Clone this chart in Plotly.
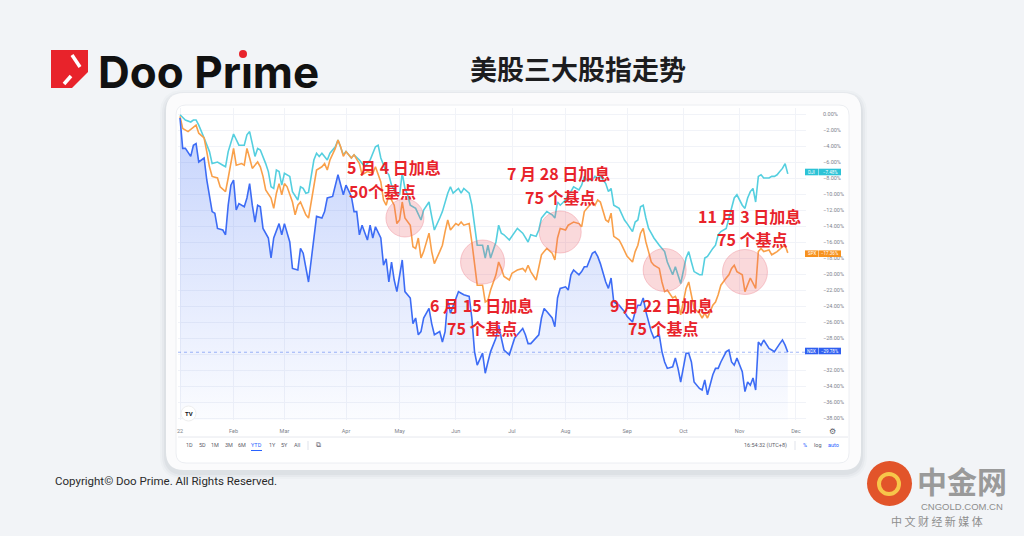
import plotly.graph_objects as go

# ---------------- data (session index 0 = 2022-01-03, values = % change YTD) ----------------
DJI_X = [0, 2, 4, 5, 6, 7, 9, 11, 12, 14, 16, 17, 18, 19, 20, 22, 24, 25, 26, 27, 28, 29, 30, 32, 33, 34, 35, 36, 37, 38, 39, 41, 42, 44, 45, 46, 47, 48, 49, 50, 51, 52, 53, 55, 56, 58, 59, 60, 61, 62, 64, 65, 67, 69, 71, 73, 74, 75, 77, 78, 79, 80, 82, 83, 84, 85, 86, 88, 89, 90, 91, 93, 94, 95, 97, 98, 100, 101, 102, 104, 105, 106, 108, 109, 110, 111, 113, 114, 115, 116, 118, 119, 120, 121, 123, 124, 125, 126, 128, 129, 130, 131, 133, 134, 135, 136, 137, 139, 140, 141, 142, 144, 145, 146, 147, 149, 150, 151, 152, 154, 155, 156, 157, 159, 160, 161, 162, 164, 165, 166, 167, 169, 170, 171, 172, 173, 174, 175, 176, 177, 179, 180, 181, 182, 184, 185, 186, 187, 189, 190, 191, 192, 194, 195, 196, 197, 199, 200, 201, 202, 204, 205, 206, 207, 208, 210, 211, 212, 213, 214, 215, 216, 217, 218, 220, 221, 222, 223, 224, 225, 226, 227]
DJI_Y = [-0.1, -0.75, -1.0, -0.75, -0.75, -1.4, -3.0, -4.7, -6.2, -6.0, -6.4, -6.6, -4.7, -3.5, -2.5, -3.9, -3.9, -2.6, -2.2, -3.7, -5.3, -4.3, -4.5, -6.2, -7.2, -9.1, -9.3, -7.0, -7.2, -8.9, -7.4, -7.8, -9.7, -10.75, -9.1, -9.3, -9.9, -9.8, -7.6, -5.75, -4.9, -5.3, -4.9, -5.75, -4.9, -4.1, -3.25, -4.1, -5.1, -4.7, -5.5, -5.1, -5.75, -6.6, -5.75, -4.1, -3.9, -5.5, -7.2, -7.6, -8.9, -9.5, -10.1, -7.4, -9.3, -10.1, -11.4, -11.8, -12.6, -13.25, -12.0, -11.0, -12.8, -14.5, -13.0, -12.2, -9.9, -9.1, -9.9, -9.3, -9.9, -9.3, -9.9, -11.4, -13.9, -16.4, -16.4, -18.0, -16.4, -18.0, -16.0, -13.9, -14.9, -15.1, -15.75, -15.3, -14.7, -14.3, -14.9, -15.5, -16.0, -15.1, -15.3, -14.5, -13.0, -12.6, -12.2, -12.6, -13.0, -11.0, -11.4, -10.75, -10.1, -9.7, -9.1, -9.5, -8.9, -7.8, -8.25, -8.25, -7.8, -8.0, -7.8, -8.7, -9.7, -9.3, -11.4, -11.8, -12.6, -13.25, -13.7, -14.7, -13.5, -13.25, -11.6, -11.4, -13.0, -14.3, -14.9, -15.5, -16.4, -16.8, -17.2, -18.5, -20.1, -19.1, -20.1, -21.2, -18.0, -17.2, -18.5, -19.7, -20.1, -20.1, -18.0, -17.8, -16.8, -16.4, -15.1, -14.7, -14.3, -13.0, -11.8, -10.5, -10.1, -11.4, -11.8, -10.5, -9.7, -9.3, -11.0, -7.8, -7.6, -8.0, -8.0, -7.8, -7.8, -7.6, -7.2, -6.8, -6.2, -7.48]

SPX_X = [0, 1, 3, 5, 6, 7, 9, 10, 11, 12, 14, 15, 17, 18, 19, 20, 21, 23, 24, 25, 26, 27, 29, 30, 31, 32, 34, 35, 36, 37, 38, 39, 40, 42, 43, 44, 45, 47, 48, 49, 50, 51, 53, 54, 55, 56, 58, 59, 60, 61, 62, 64, 65, 67, 68, 70, 72, 73, 75, 76, 77, 78, 80, 81, 82, 83, 84, 86, 87, 88, 89, 90, 91, 93, 94, 95, 97, 98, 99, 100, 101, 103, 104, 105, 106, 108, 109, 110, 111, 113, 114, 115, 116, 118, 119, 120, 121, 123, 124, 125, 126, 128, 129, 130, 131, 133, 134, 135, 136, 137, 139, 140, 141, 142, 144, 145, 146, 147, 149, 150, 151, 152, 154, 155, 156, 157, 159, 160, 161, 162, 164, 165, 166, 167, 169, 170, 171, 172, 173, 174, 175, 176, 177, 179, 180, 181, 182, 184, 185, 186, 187, 189, 190, 191, 192, 194, 195, 196, 197, 199, 200, 201, 202, 204, 205, 206, 207, 208, 210, 211, 212, 213, 215, 216, 217, 218, 220, 221, 222, 223, 225, 226, 227]
SPX_Y = [-0.3, -1.8, -2.2, -1.6, -1.4, -2.4, -3.0, -4.7, -6.6, -7.8, -8.0, -9.1, -9.7, -8.0, -6.0, -4.3, -6.4, -6.2, -6.4, -4.3, -5.5, -6.8, -6.0, -6.6, -7.8, -9.5, -10.5, -11.8, -9.9, -8.7, -10.1, -8.7, -9.1, -11.0, -12.6, -11.4, -11.0, -12.6, -13.0, -11.0, -8.5, -7.0, -6.6, -6.2, -7.0, -5.75, -4.3, -3.25, -4.1, -5.3, -4.7, -5.5, -5.1, -6.2, -7.6, -7.2, -7.4, -6.6, -8.5, -10.75, -11.4, -10.1, -11.4, -13.7, -13.25, -11.0, -13.0, -13.9, -16.6, -16.8, -15.5, -18.0, -17.2, -14.9, -17.2, -18.7, -17.2, -16.4, -14.7, -13.25, -14.5, -13.7, -13.9, -13.5, -13.9, -13.7, -16.0, -18.9, -21.4, -21.4, -23.5, -23.3, -22.0, -20.1, -18.5, -19.3, -20.3, -20.75, -19.9, -19.7, -19.5, -19.3, -19.7, -18.9, -19.7, -20.75, -19.3, -17.6, -17.2, -16.8, -17.4, -18.25, -15.5, -14.3, -14.5, -13.9, -13.7, -13.5, -13.7, -14.1, -12.2, -11.8, -11.0, -11.4, -10.75, -11.0, -13.25, -13.5, -12.4, -15.3, -15.75, -16.4, -17.2, -17.8, -18.5, -17.2, -16.4, -14.9, -14.3, -16.0, -17.2, -18.5, -18.9, -19.3, -21.0, -22.2, -22.0, -23.0, -22.8, -23.5, -25.1, -21.8, -21.0, -22.6, -24.3, -24.9, -25.5, -24.9, -25.5, -23.9, -23.5, -22.6, -21.4, -20.5, -20.1, -19.3, -18.9, -19.7, -20.1, -22.2, -21.4, -20.5, -21.8, -17.2, -16.8, -17.2, -17.0, -17.6, -17.4, -17.2, -16.6, -16.4, -17.36]

NDX_X = [0, 1, 2, 4, 5, 6, 7, 9, 10, 12, 13, 14, 16, 17, 18, 19, 20, 21, 22, 24, 25, 26, 27, 28, 29, 30, 31, 33, 34, 35, 37, 38, 39, 41, 42, 44, 45, 46, 48, 49, 50, 51, 53, 54, 55, 57, 59, 60, 61, 62, 64, 65, 66, 67, 68, 70, 71, 72, 73, 75, 76, 77, 78, 79, 80, 81, 83, 84, 86, 87, 88, 89, 90, 91, 93, 94, 95, 97, 98, 99, 100, 101, 103, 104, 105, 106, 108, 109, 110, 111, 113, 114, 115, 116, 118, 119, 120, 121, 123, 124, 125, 126, 128, 129, 130, 131, 133, 134, 135, 136, 137, 139, 140, 141, 142, 144, 145, 146, 147, 149, 150, 151, 152, 154, 155, 156, 157, 159, 160, 161, 162, 164, 165, 166, 167, 169, 170, 171, 172, 173, 174, 175, 176, 177, 179, 180, 181, 182, 184, 185, 186, 187, 189, 190, 191, 192, 194, 195, 196, 197, 199, 200, 201, 202, 204, 205, 206, 207, 208, 210, 211, 212, 213, 214, 215, 216, 217, 218, 220, 221, 222, 224, 225, 226, 227]
NDX_Y = [-0.5, -4.3, -4.3, -5.3, -3.9, -3.7, -6.0, -5.5, -8.25, -12.2, -12.4, -14.3, -14.5, -15.1, -11.4, -8.9, -8.25, -12.0, -11.2, -11.6, -10.5, -8.7, -11.4, -13.5, -11.4, -11.6, -14.3, -15.5, -18.0, -15.5, -13.7, -15.1, -13.7, -16.0, -19.3, -19.5, -16.8, -17.4, -21.0, -18.5, -15.3, -12.8, -13.0, -12.2, -10.5, -10.3, -7.6, -8.9, -10.1, -8.9, -10.3, -12.2, -12.2, -15.1, -13.9, -15.75, -13.9, -15.5, -14.1, -15.5, -18.9, -18.1, -21.0, -18.5, -20.75, -22.2, -18.25, -22.2, -23.0, -26.2, -25.5, -27.6, -27.2, -25.5, -24.3, -26.2, -27.6, -27.2, -28.5, -27.2, -23.25, -24.9, -23.25, -22.2, -22.4, -22.6, -22.8, -25.5, -29.7, -31.4, -29.9, -32.4, -31.0, -29.7, -28.0, -26.4, -28.0, -29.5, -30.1, -29.1, -28.0, -27.6, -26.8, -27.6, -28.7, -28.7, -28.0, -27.6, -25.5, -24.3, -24.7, -25.5, -26.6, -23.0, -21.8, -21.6, -22.0, -20.1, -19.5, -20.1, -19.7, -19.1, -19.1, -17.4, -17.2, -17.8, -18.7, -21.0, -21.8, -20.5, -23.5, -23.9, -24.3, -24.7, -25.3, -26.0, -24.7, -23.9, -23.9, -23.0, -24.7, -26.0, -27.2, -28.0, -27.6, -29.7, -31.0, -31.8, -31.6, -30.5, -31.8, -33.5, -29.9, -29.9, -31.0, -33.5, -34.3, -34.5, -33.25, -35.1, -32.6, -31.8, -31.8, -31.0, -29.7, -29.5, -31.0, -31.4, -30.5, -32.2, -34.7, -33.5, -33.9, -33.0, -34.5, -28.5, -28.9, -28.25, -29.3, -29.5, -29.7, -28.7, -28.25, -28.9, -29.78]

SERIES_NAMES = ["DJI", "SPX", "NDX"]
LAST_VALUES = [-7.48, -17.36, -29.78]

MONTH_SESSIONS = [0, 20, 39, 62, 82, 103, 124, 144, 167, 188, 209, 230]
MONTH_LABELS = ["22", "Feb", "Mar", "Apr", "May", "Jun", "Jul", "Aug", "Sep", "Oct", "Nov", "Dec"]
PCT_TICKS = [0, -2, -4, -6, -8, -10, -12, -14, -16, -18, -20, -22, -24, -26, -28, -30, -32, -34, -36, -38]
HIDDEN_TICKS = [-30]  # covered by the NDX price label in the reference

# Fed hikes marked on the chart
EVENT_SESSIONS = [84, 113, 142, 181, 211]
EVENT_LEVELS = [-13.0, -18.5, -14.75, -19.5, -19.75]
EVENT_TEXT1 = ["5 月 4 日加息", "6 月 15 日加息", "7 月 28 日加息", "9 月 22 日加息", "11 月 3 日加息"]
EVENT_TEXT2 = ["50个基点", "75 个基点", "75 个基点", "75 个基点", "75 个基点"]

TITLE = "美股三大股指走势"
COPYRIGHT = "Copyright© Doo Prime. All Rights Reserved."

# ---------------- layout geometry ----------------
W, H = 1024, 536
L, R, T, B = 178, 218, 108, 116
PW, PH = W - L - R, H - T - B
X_RANGE = [-0.75, 233.8]
Y_RANGE = [-38.25, 0.75]


def px(x):
    return (x - L) / PW


def py(y):
    return (H - B - y) / PH


def ann(x, y, text, size, color, family="Roboto", xanchor="center", yanchor="middle"):
    return dict(xref="paper", yref="paper", x=px(x), y=py(y), text=text, showarrow=False,
                xanchor=xanchor, yanchor=yanchor, font=dict(size=size, color=color, family=family))


C_DJI, C_SPX, C_NDX = "#55cfdf", "#f9a04a", "#3d6cf5"
B_DJI, B_SPX, B_NDX = "#2cc3d6", "#f7921e", "#2f5ff0"
GRAY = "#80838c"
CJK = "Noto Sans CJK SC"

fig = go.Figure()

# NDX area fill to the bottom of the pane
fig.add_trace(go.Scatter(x=NDX_X, y=[Y_RANGE[0]] * len(NDX_X), mode="lines",
                         line=dict(width=0), hoverinfo="skip", showlegend=False))
fig.add_trace(go.Scatter(x=NDX_X, y=NDX_Y, mode="lines", fill="tonexty",
                         line=dict(width=0), hoverinfo="skip", showlegend=False,
                         fillgradient=dict(type="vertical",
                                           colorscale=[[0, "rgba(61,108,245,0.02)"],
                                                       [1, "rgba(61,108,245,0.30)"]])))

for xs, ys, c, n in [(DJI_X, DJI_Y, C_DJI, "DJI"), (SPX_X, SPX_Y, C_SPX, "SPX"), (NDX_X, NDX_Y, C_NDX, "NDX")]:
    fig.add_trace(go.Scatter(x=xs, y=ys, mode="lines", name=n, showlegend=False,
                             line=dict(color=c, width=1.6)))

# pink circles at hike dates
fig.add_trace(go.Scatter(x=EVENT_SESSIONS, y=EVENT_LEVELS, mode="markers", showlegend=False,
                         marker=dict(size=[38, 44, 42, 43, 45], color="rgba(236,92,104,0.33)",
                                     line=dict(color="rgba(232,96,108,0.45)", width=1))))

shapes = []


def rrect(x0, y0, x1, y1, r):
    a0, a1 = px(x0), px(x1)
    b0, b1 = py(y1), py(y0)
    rx, ry = r / PW, r / PH
    return (f"M{a0+rx},{b0} L{a1-rx},{b0} Q{a1},{b0} {a1},{b0+ry} L{a1},{b1-ry} "
            f"Q{a1},{b1} {a1-rx},{b1} L{a0+rx},{b1} Q{a0},{b1} {a0},{b1-ry} "
            f"L{a0},{b0+ry} Q{a0},{b0} {a0+rx},{b0} Z")


# background card + soft shadow
for i, alpha in enumerate([0.025, 0.035, 0.05]):
    d = 6 - 2 * i
    shapes.append(dict(type="path", xref="paper", yref="paper", layer="below",
                       path=rrect(166 - d, 93 - d + 3, 861 + d, 470 + d + 3, 18 + d),
                       fillcolor=f"rgba(60,70,90,{alpha})", line=dict(width=0)))
shapes.append(dict(type="path", xref="paper", yref="paper", layer="below",
                   path=rrect(166, 93, 861, 470, 18), fillcolor="#fbfbfc", line=dict(width=0)))
shapes.append(dict(type="path", xref="paper", yref="paper", layer="below",
                   path=rrect(176, 105, 849, 463, 10), fillcolor="#ffffff",
                   line=dict(color="#eceef2", width=1)))
# separator under time axis
shapes.append(dict(type="line", xref="paper", yref="paper", x0=px(178), x1=px(848),
                   y0=py(437), y1=py(437), line=dict(color="#e6e8ee", width=1)))
shapes.append(dict(type="line", xref="paper", yref="paper", x0=px(308), x1=px(308),
                   y0=py(441), y1=py(450), line=dict(color="#e0e3eb", width=1)))
shapes.append(dict(type="line", xref="paper", yref="paper", x0=px(795), x1=px(795),
                   y0=py(441), y1=py(450), line=dict(color="#e0e3eb", width=1)))
# YTD underline
shapes.append(dict(type="line", xref="paper", yref="paper", x0=px(251), x1=px(262),
                   y0=py(450.5), y1=py(450.5), line=dict(color="#2962ff", width=1)))
# NDX price line
shapes.append(dict(type="line", xref="paper", yref="y", x0=0, x1=1, y0=LAST_VALUES[2], y1=LAST_VALUES[2],
                   line=dict(color="rgba(47,95,240,0.45)", width=1, dash="dot")))
# TV logo circle
shapes.append(dict(type="circle", xref="paper", yref="paper", x0=px(181), x1=px(196),
                   y0=py(421), y1=py(406), fillcolor="#ffffff", line=dict(color="#eeeeee", width=1)))

annotations = []
# price-scale labels
box_y = [172, 253.7, 351]
for name, val, yy, col in zip(SERIES_NAMES, LAST_VALUES, box_y, [B_DJI, B_SPX, B_NDX]):
    shapes.append(dict(type="rect", xref="paper", yref="paper", x0=px(805), x1=px(818),
                       y0=py(yy + 3.3), y1=py(yy - 3.3), fillcolor=col, line=dict(width=0)))
    shapes.append(dict(type="rect", xref="paper", yref="paper", x0=px(818.5), x1=px(841),
                       y0=py(yy + 3.3), y1=py(yy - 3.3), fillcolor=col, line=dict(width=0)))
    annotations.append(ann(811.5, yy, name, 4.5, "white"))
    annotations.append(ann(830, yy, f"\u2212{abs(val):.2f}%", 4.5, "white"))

# hike annotations (red text)
txt_pos = [((345, 167), (347, 191), "left"), ((481, 305), (482, 328), "center"),
           ((558, 173), (560, 197), "center"), ((661, 305), (663, 328), "center"),
           ((749, 216), (752, 239), "center")]
for t1, t2, (p1, p2, anc) in zip(EVENT_TEXT1, EVENT_TEXT2, txt_pos):
    for t, p in ((t1, p1), (t2, p2)):
        annotations.append(ann(p[0], p[1], f"<b>{t}</b>", 16, "#e8232b", CJK, xanchor=anc))

# TV logo
annotations.append(ann(188.5, 413.5, "<b>TV</b>", 6, "#131722"))

# toolbar
tb = [("1D", 189), ("5D", 202), ("1M", 215), ("3M", 229), ("6M", 242), ("YTD", 256.5),
      ("1Y", 272), ("5Y", 284), ("All", 297)]
for t, x in tb:
    annotations.append(ann(x, 445, t, 5.5, "#2962ff" if t == "YTD" else "#5d606b"))
annotations.append(ann(318, 445, "⧉", 7, "#5d606b", "DejaVu Sans"))
annotations.append(ann(765, 445, "16:54:32 (UTC+8)", 5.5, "#5d606b"))
for t, x, c in [("%", 805, "#2962ff"), ("log", 818, "#5d606b"), ("auto", 833, "#2962ff")]:
    annotations.append(ann(x, 445, t, 5.5, c))
annotations.append(ann(832, 431, "⚙", 8, "#5d606b", "DejaVu Sans"))

# header
annotations.append(ann(578, 68, f"<b>{TITLE}</b>", 27, "#1d1d1f", CJK))
annotations.append(ann(96, 72, "<b>Doo Prıme</b>", 44, "#111111", "Inter", xanchor="left"))
shapes.append(dict(type="circle", xref="paper", yref="paper", x0=px(239), x1=px(247),
                   y0=py(58), y1=py(50), fillcolor="#e8232b", line=dict(width=0)))
# logo square
shapes.append(dict(type="path", xref="paper", yref="paper",
                   path=(f"M{px(51)},{py(50)} L{px(88)},{py(50)} L{px(88)},{py(72)} "
                         f"L{px(72)},{py(88)} L{px(51)},{py(88)} Z"),
                   fillcolor="#e8232b", line=dict(width=0)))
shapes.append(dict(type="line", xref="paper", yref="paper", x0=px(72), y0=py(55), x1=px(80), y1=py(67),
                   line=dict(color="white", width=3.5)))
shapes.append(dict(type="line", xref="paper", yref="paper", x0=px(64), y0=py(84), x1=px(71), y1=py(76),
                   line=dict(color="white", width=3.5)))

annotations.append(ann(53, 481, COPYRIGHT, 11.5, "#2b2b2b", xanchor="left"))

# watermark
shapes.append(dict(type="circle", xref="paper", yref="paper", x0=px(867), x1=px(912),
                   y0=py(506), y1=py(461), fillcolor="#e2542a", line=dict(width=0)))
shapes.append(dict(type="circle", xref="paper", yref="paper", x0=px(879), x1=px(899),
                   y0=py(494), y1=py(474), fillcolor="rgba(0,0,0,0)", line=dict(color="#f7c64a", width=4)))
annotations.append(ann(962, 480, "<b>中金网</b>", 30, "#9a9a9a", CJK))
annotations.append(ann(962, 507, "CNGOLD.COM.CN", 9.5, "#8e8e8e", "Liberation Sans"))
annotations.append(ann(937, 521, "中 文 财 经 新 媒 体", 11, "#8e8e8e", CJK))

fig.update_layout(
    width=W, height=H,
    margin=dict(l=L, r=R, t=T, b=B),
    paper_bgcolor="#f2f4f7", plot_bgcolor="rgba(0,0,0,0)",
    shapes=shapes, annotations=annotations, showlegend=False,
    xaxis=dict(range=X_RANGE, tickmode="array", tickvals=MONTH_SESSIONS, ticktext=MONTH_LABELS,
               showgrid=True, gridcolor="#f1f3f8", gridwidth=1, zeroline=False, showline=False,
               ticks="", ticklabelstandoff=6, tickfont=dict(size=5.5, color=GRAY, family="Roboto")),
    yaxis=dict(range=Y_RANGE, side="right", tickmode="array", tickvals=PCT_TICKS,
               ticktext=["" if v in HIDDEN_TICKS else ("\u2212" if v < 0 else "") + f"{abs(v):.2f}%"
                         for v in PCT_TICKS],
               showgrid=True, gridcolor="#f1f3f8", gridwidth=1, zeroline=False, showline=False,
               ticks="", ticklabelstandoff=16, tickfont=dict(size=5.5, color=GRAY, family="Roboto")),
)

fig.write_html("out.html", config={"displayModeBar": False},
               post_script="document.body.style.margin='0';document.body.style.padding='0';")
